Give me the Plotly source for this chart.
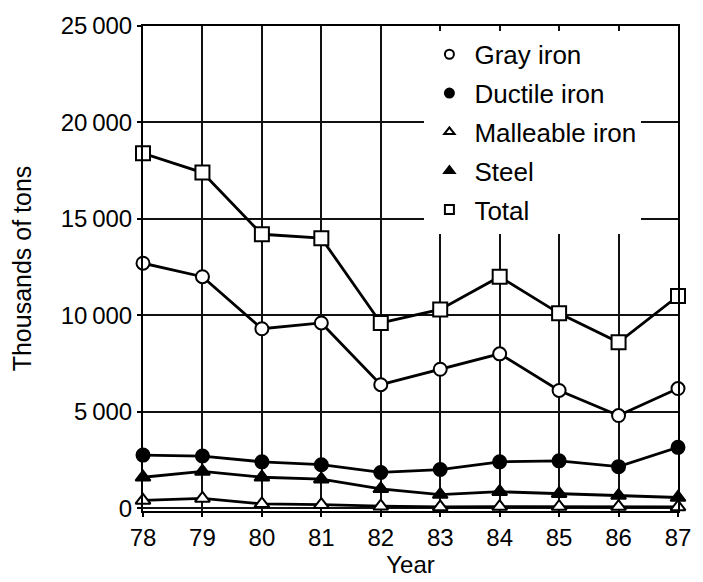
import plotly.graph_objects as go

years = [78, 79, 80, 81, 82, 83, 84, 85, 86, 87]
gray_iron = [12700, 12000, 9300, 9600, 6400, 7200, 8000, 6100, 4800, 6200]
ductile_iron = [2750, 2700, 2400, 2250, 1850, 2000, 2400, 2450, 2150, 3150]
malleable_iron = [400, 500, 220, 180, 100, 60, 80, 80, 80, 60]
steel = [1600, 1900, 1600, 1500, 1000, 700, 850, 750, 650, 550]
total = [18400, 17400, 14200, 14000, 9600, 10300, 12000, 10100, 8600, 11000]

series_names = ["Gray iron", "Ductile iron", "Malleable iron", "Steel", "Total"]
y_tickvals = [0, 5000, 10000, 15000, 20000, 25000]
y_ticktext = ["0", "5\u2009000", "10\u2009000", "15\u2009000", "20\u2009000", "25\u2009000"]
x_ticktext = ["78", "79", "80", "81", "82", "83", "84", "85", "86", "87"]

FONT = "Liberation Sans, Arial, Helvetica, sans-serif"

styles = {
    "Gray iron": dict(symbol="circle", color="white", size=13),
    "Ductile iron": dict(symbol="circle", color="black", size=13),
    "Malleable iron": dict(symbol="triangle-up", color="white", size=13),
    "Steel": dict(symbol="triangle-up", color="black", size=13),
    "Total": dict(symbol="square", color="white", size=14),
}
data = {
    "Gray iron": gray_iron,
    "Ductile iron": ductile_iron,
    "Malleable iron": malleable_iron,
    "Steel": steel,
    "Total": total,
}

fig = go.Figure()
for name in ["Malleable iron", "Steel", "Ductile iron", "Gray iron", "Total"]:
    st = styles[name]
    fig.add_trace(go.Scatter(
        x=years, y=data[name], mode="lines+markers", name=name,
        showlegend=False, cliponaxis=False,
        line=dict(color="black", width=2.8),
        marker=dict(symbol=st["symbol"], size=st["size"], color=st["color"],
                    line=dict(color="black", width=2)),
    ))

for i, name in enumerate(series_names):
    st = styles[name]
    fig.add_trace(go.Scatter(
        x=[None], y=[None], mode="markers", name=name,
        legendgroup=name, showlegend=True,
        marker=dict(symbol=st["symbol"], size=9, color=st["color"],
                    line=dict(color="black", width=2)),
    ))

fig.update_layout(
    width=703, height=582,
    margin=dict(l=143, r=15, t=24, b=62),
    paper_bgcolor="white", plot_bgcolor="white",
    font=dict(family=FONT, size=24, color="black"),
    showlegend=True,
    legend=dict(
        x=0.526, y=0.99, xanchor="left", yanchor="top",
        bgcolor="white", borderwidth=0,
        font=dict(family=FONT, size=26, color="black"),
        traceorder="grouped", tracegroupgap=2,
        itemwidth=40,
    ),
)
fig.update_xaxes(
    range=[78, 87], tickvals=years, ticktext=x_ticktext,
    showgrid=True, gridcolor="#111", gridwidth=1.5,
    showline=True, linecolor="black", linewidth=2, mirror=True,
    ticks="outside", ticklen=4, tickcolor="black", tickwidth=1.5,
    zeroline=False, tickfont=dict(size=24),
    title=dict(text="Year", font=dict(family=FONT, size=24), standoff=2),
)
fig.update_yaxes(
    range=[-150, 25000], tickvals=y_tickvals, ticktext=y_ticktext,
    showgrid=True, gridcolor="#111", gridwidth=1.5,
    showline=True, linecolor="black", linewidth=2, mirror=True,
    ticks="outside", ticklen=4, tickcolor="black", tickwidth=1.5,
    zeroline=False, tickfont=dict(size=24),
    title=dict(text="Thousands of tons", font=dict(family=FONT, size=25), standoff=22),
)

fig.write_html("out.html")
